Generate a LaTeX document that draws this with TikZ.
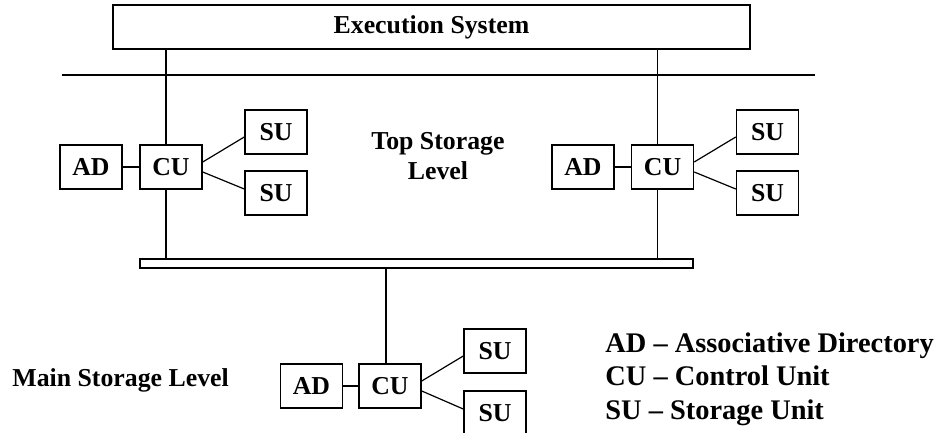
\documentclass[tikz,border=0pt]{standalone}
\usepackage{fontspec}
\setmainfont{Liberation Serif}
\usetikzlibrary{positioning}

\tikzset{
  unit/.style={draw, line width=0.75pt, minimum width=31pt, minimum height=22pt,
    inner sep=0pt, font=\fontsize{12.9}{15}\selectfont\bfseries},
  wire/.style={line width=0.6pt},
  txt/.style={inner sep=0pt, font=\fontsize{12.9}{15}\selectfont\bfseries},
}

\begin{document}
\begin{tikzpicture}[x=0.5pt, y=-0.5pt]
\useasboundingbox (0,0) rectangle (938,433);

% Ausfuehrungssystem und obere Leitung
\node[unit, minimum width=318.5pt] (exec) at (431.5,27) {Execution System};
\coordinate (hl) at (62,75);
\coordinate (hr) at (815,75);
\draw[wire] (hl) -- (hr);

% Bus zwischen den Ebenen
\node[draw, line width=0.6pt, minimum width=276.5pt, minimum height=4.5pt, inner sep=0pt] (bus) at (416.5,263.5) {};

% linke Gruppe
\node[unit] (adL) at (91,167) {AD};
\node[unit] (cuL) at (171,167) {CU};
\node[unit] (suLa) at (276,132) {SU};
\node[unit] (suLb) at (276,193) {SU};

% rechte Gruppe
\node[unit] (adR) at (583,167) {AD};
\node[unit] (cuR) at (662.5,167) {CU};
\node[unit] (suRa) at (767.5,132) {SU};
\node[unit] (suRb) at (767.5,193) {SU};

% untere Gruppe
\node[unit] (adM) at (311.5,386) {AD};
\node[unit] (cuM) at (390,386) {CU};
\node[unit] (suMa) at (495,351) {SU};
\node[unit] (suMb) at (495,413) {SU};

% Verbindungen
\foreach \g in {L,R,M}{
  \draw[wire] (ad\g) -- (cu\g);
  \draw[wire] ([yshift=2.5pt]cu\g.east) -- ([yshift=-2.5pt]su\g a.west);
  \draw[wire] ([yshift=-2.5pt]cu\g.east) -- ([yshift=2pt]su\g b.west);
}
\draw[wire] ([xshift=-2.5pt]cuL.north) -- ([xshift=-2.5pt]cuL.north |- exec.south);
\draw[wire] ([xshift=-2.5pt]cuL.south) -- ([xshift=-2.5pt]cuL.south |- bus.north);
\draw[wire] ([xshift=-2.5pt]cuR.north) -- ([xshift=-2.5pt]cuR.north |- exec.south);
\draw[wire] ([xshift=-2.5pt]cuR.south) -- ([xshift=-2.5pt]cuR.south |- bus.north);
\draw[wire] ([xshift=-2pt]cuM.north) -- ([xshift=-2pt]cuM.north |- bus.south);

% Beschriftungen
\node[txt, align=center] (top) at (438,156) {Top Storage\\Level};
\node[txt, anchor=west] (main) at (12,380) {Main Storage Level};
\node[txt, anchor=west, align=left, font=\fontsize{14.2}{16.7}\selectfont\bfseries] (legend) at (605,379)
  {AD -- Associative Directory\\CU -- Control Unit\\SU -- Storage Unit};
\end{tikzpicture}
\end{document}
